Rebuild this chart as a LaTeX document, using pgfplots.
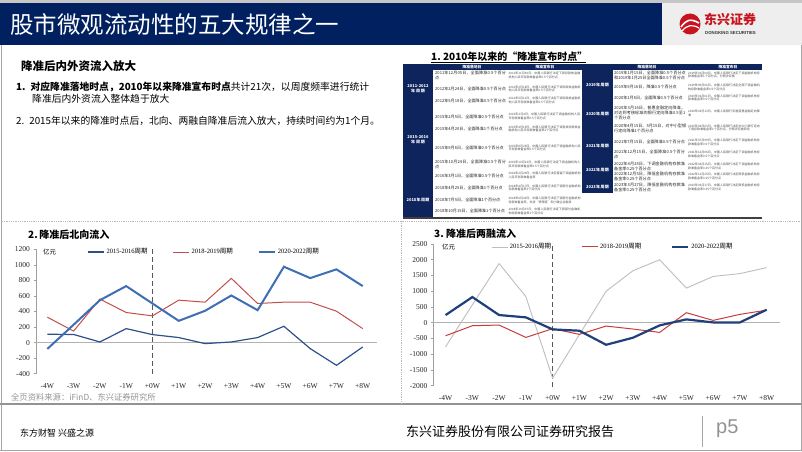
\documentclass[border=0pt]{standalone}
\usepackage{pgfplots}
\pgfplotsset{compat=1.18}
\usepackage{pgfplotstable}
\usepackage{fontspec}
\setmainfont{Liberation Serif}
\setsansfont{Liberation Sans}
\newfontfamily\cjk{Noto Sans CJK SC}
\XeTeXlinebreaklocale "zh"
\XeTeXlinebreakskip = 0pt plus 1pt
\definecolor{navy}{RGB}{0,32,96}
\definecolor{tnavy}{RGB}{14,36,92}
\definecolor{logogray}{RGB}{238,238,238}
\definecolor{logored}{RGB}{200,20,30}
\definecolor{bluethin}{RGB}{46,80,140}
\definecolor{redline}{RGB}{192,80,77}
\definecolor{bluethick}{RGB}{62,110,180}
\definecolor{grayline}{RGB}{190,190,190}
\definecolor{redtwo}{RGB}{200,60,60}
\definecolor{navytwo}{RGB}{31,64,122}

\pgfplotstableread{
x a b c
-4 107 327 -82
-3 105 148 230
-2 8 560 545
-1 180 387 727
0 103 344 503
1 65 546 280
2 -13 520 409
3 8 826 606
4 65 503 417
5 210 520 976
6 -77 520 830
7 -292 404 942
8 -56 180 727
}\northdata

\pgfplotstableread{
x a b c
-4 -763 -413 244
-3 570 -95 815
-2 1880 -74 244
-1 830 -466 170
0 -1760 -190 -212
1 -380 -370 -254
2 1000 -106 -700
3 1650 -200 -477
4 2000 -307 -85
5 1100 318 106
6 1470 74 10
7 1560 265 10
8 1750 400 413
}\margindata

\newcommand{\ca}[2]{\node[anchor=west,inner sep=0pt,text width=72pt,align=left,text=black!85,font=\cjk\fontsize{4.1}{5}\selectfont] at (#1) {#2};}
\newcommand{\cb}[2]{\node[anchor=west,inner sep=0pt,text width=72pt,align=left,text=black!70,font=\cjk\fontsize{3}{3.7}\selectfont] at (#1) {#2};}
\newcommand{\pl}[2]{\node[inner sep=0pt,text width=28pt,align=center,text=white,font=\cjk\bfseries\fontsize{4}{5}\selectfont] at (#1) {#2};}

\begin{document}
\begin{tikzpicture}
\useasboundingbox (0,0) rectangle (802pt,451pt);
\fill[white] (0,0) rectangle (802pt,451pt);
\begin{scope}[x=1pt,y=-1pt,yshift=451pt]
% header
\fill[gray!45] (0,0) rectangle (802,3);
\fill[navy] (0,3) rectangle (662,45);
\fill[logogray] (662,3) rectangle (802,45);
\node[anchor=west,text=white,font=\cjk\fontsize{23.5}{25}\selectfont,inner sep=0pt] at (10,24) {股市微观流动性的五大规律之一};
% logo
\fill[logored] (690,24) circle (10.5);
\draw[white,line width=1.6pt] (681,27) .. controls (686,20) and (690,18) .. (699,23);
\draw[white,line width=1.2pt] (682,31) .. controls (687,25) and (692,24) .. (699,28);
\node[anchor=west,text=logored,font=\cjk\bfseries\fontsize{13}{14}\selectfont,inner sep=0pt] at (704,20) {东兴证券};
\node[anchor=west,text=black!80,font=\sffamily\bfseries\fontsize{4.3}{5}\selectfont,inner sep=0pt] at (705,33) {DONGKING SECURITIES};
% frame
\draw[gray!70,line width=1pt] (1,45) -- (1,451);
\draw[gray!70,line width=1pt] (801,45) -- (801,451);
\draw[gray!70,line width=1pt] (0,450.5) -- (802,450.5);
\draw[gray!85,line width=2pt] (0,404) -- (802,404);
\draw[gray!55,densely dotted,line width=0.8pt] (2,221) -- (800,221);
\draw[gray!55,densely dotted,line width=0.8pt] (401,221) -- (401,403);
% left text block
\node[anchor=west,inner sep=0pt,font=\cjk\bfseries\fontsize{11.5}{13}\selectfont] at (21,66) {降准后内外资流入放大};
\node[anchor=west,inner sep=0pt,font=\cjk\fontsize{9.8}{11}\selectfont] at (16,87) {\textbf{1.}\hspace{5pt}\textbf{对应降准落地时点，2010年以来降准宣布时点}共计21次，以周度频率进行统计};
\node[anchor=west,inner sep=0pt,font=\cjk\fontsize{9.8}{11}\selectfont] at (32,99) {降准后内外资流入整体趋于放大};
\node[anchor=west,inner sep=0pt,font=\cjk\fontsize{9.8}{11}\selectfont] at (16,121) {2.\hspace{5pt}2015年以来的降准时点后，北向、两融自降准后流入放大，持续时间约为1个月。};
% table
\node[anchor=west,inner sep=0pt,font=\cjk\bfseries\fontsize{10}{11}\selectfont] at (431,56.5) {1.\ 2010年以来的“降准宣布时点”};
\draw[black,line width=0.7pt] (431,62.3) -- (586,62.3);
\fill[tnavy] (403,64) rectangle (762,69.5);
\fill[tnavy] (403,69.5) rectangle (433,217.5);
\fill[tnavy] (582,69.5) rectangle (613,193);
\draw[black!75,line width=1.5pt] (403,218) -- (762,218);
\node[inner sep=0pt,text=white,font=\cjk\bfseries\fontsize{3.8}{4}\selectfont] at (472,66.8) {降准落地日};
\node[inner sep=0pt,text=white,font=\cjk\bfseries\fontsize{3.8}{4}\selectfont] at (545,66.8) {降准宣布日};
\node[inner sep=0pt,text=white,font=\cjk\bfseries\fontsize{3.8}{4}\selectfont] at (647,66.8) {降准落地日};
\node[inner sep=0pt,text=white,font=\cjk\bfseries\fontsize{3.8}{4}\selectfont] at (728,66.8) {降准宣布日};
\pl{418,89}{2011-2012年周期}
\pl{418,140}{2015-2016年周期}
\pl{418,200.3}{2018年周期}
\pl{597.5,85}{2019年周期}
\pl{597.5,114}{2020年周期}
\pl{597.5,146}{2021年周期}
\pl{597.5,170}{2022年周期}
\pl{597.5,187}{2023年周期}
% left rows
\ca{435,75.5}{2011年12月05日，全面降准0.5个百分点}
\ca{435,89}{2012年2月24日，全面降准0.5个百分点}
\ca{435,100.7}{2012年5月18日，全面降准0.5个百分点}
\ca{435,116.7}{2015年2月5日，全面降准0.5个百分点}
\ca{435,129}{2015年4月20日，全面降准1个百分点}
\ca{435,147.7}{2015年9月6日，全面降准0.5个百分点}
\ca{435,164.5}{2015年10月24日，全面降准0.5个百分点}
\ca{435,175.7}{2016年3月1日，全面降准0.5个百分点}
\ca{435,187.7}{2018年4月25日，全面降准1个百分点}
\ca{435,200.3}{2018年7月5日，全面降准1个百分点}
\ca{435,211}{2018年10月15日，全面降准1个百分点}
\cb{508.5,75.5}{2011年11月30日，中国人民银行决定下调存款类金融机构人民币存款准备金率0.5个百分点}
\cb{508.5,89}{2012年2月18日，中国人民银行决定下调存款类金融机构人民币存款准备金率0.5个百分点}
\cb{508.5,100.7}{2012年5月12日，中国人民银行决定下调存款类金融机构人民币存款准备金率0.5个百分点}
\cb{508.5,116.7}{2015年2月4日，中国人民银行决定下调金融机构人民币存款准备金率0.5个百分点}
\cb{508.5,129}{2015年4月19日，中国人民银行决定下调各类存款类金融机构人民币存款准备金率1个百分点}
\cb{508.5,147.7}{2015年8月25日，中国人民银行决定下调金融机构人民币存款准备金率0.5个百分点}
\cb{508.5,164.5}{2015年10月23日，中国人民银行决定下调金融机构人民币存款准备金率0.5个百分点}
\cb{508.5,175.7}{2016年2月29日，中国人民银行决定普遍下调金融机构人民币存款准备金率}
\cb{508.5,187.7}{2018年4月17日，中国人民银行决定下调部分金融机构存款准备金率1个百分点}
\cb{508.5,200.3}{2018年6月24日，中国人民银行决定下调部分金融机构存款准备金率，支持“债转股”和小微企业融资}
\cb{508.5,211}{2018年10月07日，中国人民银行决定下调部分金融机构存款准备金率1个百分点}
% right rows
\ca{614,75}{2019年1月15日，全面降准0.5个百分点和2019年1月25日全面降准0.5个百分点}
\ca{614,87}{2019年9月16日，降准0.5个百分点}
\ca{614,98}{2020年1月6日，全面降准0.5个百分点}
\ca{614,113}{2020年3月16日，普惠金融定向降准，对达到考核标准的银行定向降准0.5至1个百分点}
\ca{614,128}{2020年4月15日、5月15日，对中小型银行定向降准1个百分点}
\ca{614,142}{2021年7月15日，全面降准0.5个百分点}
\ca{614,154}{2021年12月15日，全面降准0.5个百分点}
\ca{614,166}{2022年4月25日，下调金融机构存款准备金率0.25个百分点}
\ca{614,176}{2022年12月5日，降低金融机构存款准备金率0.25个百分点}
\ca{614,187}{2023年3月27日，降低金融机构存款准备金率0.25个百分点}
\cb{688,75}{2019年01月04日，中国人民银行决定下调金融机构存款准备金率1个百分点，分两次实施}
\cb{688,87}{2019年09月06日，中国人民银行决定全面下调金融机构存款准备金率0.5个百分点}
\cb{688,98}{2020年01月01日，中国人民银行决定下调金融机构存款准备金率0.5个百分点}
\cb{688,113}{2020年03月13日，中国人民银行实施普惠金融定向降准}
\cb{688,128}{2020年04月03日，中国人民银行决定对中小银行定向下调存款准备金率1个百分点，分两次实施到位}
\cb{688,142}{2021年07月09日，中国人民银行决定下调金融机构存款准备金率0.5个百分点}
\cb{688,154}{2021年12月06日，中国人民银行决定下调金融机构存款准备金率0.5个百分点}
\cb{688,166}{2022年04月15日，中国人民银行决定下调金融机构存款准备金率0.25个百分点}
\cb{688,176}{2022年11月25日，中国人民银行决定降低金融机构存款准备金率0.25个百分点}
\cb{688,187}{2023年03月17日，中国人民银行决定降低金融机构存款准备金率0.25个百分点}
% chart titles
\node[anchor=west,inner sep=0pt,font=\cjk\bfseries\fontsize{10}{11}\selectfont] at (28,235) {2.\,降准后北向流入};
\node[anchor=west,inner sep=0pt,font=\cjk\bfseries\fontsize{10}{11}\selectfont] at (434,234) {3.\ 降准后两融流入};
% source and footer
\node[anchor=west,inner sep=0pt,text=gray!85,font=\cjk\fontsize{8.3}{9}\selectfont] at (11,397) {全页资料来源：iFinD、东兴证券研究所};
\node[anchor=west,inner sep=0pt,font=\cjk\fontsize{9}{10}\selectfont] at (20,433) {东方财智 兴盛之源};
\node[anchor=west,inner sep=0pt,font=\cjk\fontsize{13}{14}\selectfont] at (406,432) {东兴证券股份有限公司证券研究报告};
\draw[gray!70,line width=0.8pt] (702,416) -- (702,447);
\node[anchor=west,inner sep=0pt,text=gray!85,font=\sffamily\fontsize{20}{22}\selectfont] at (716,429) {p5};
\end{scope}

% chart 1
\begin{axis}[
  at={(36pt,77.3pt)}, anchor=south west, scale only axis,
  width=340.7pt, height=124.4pt,
  xmin=-4.43, xmax=8.53, ymin=-400, ymax=1200,
  axis lines*=left,
  x axis line style={draw=none},
  y axis line style={gray!75,line width=0.6pt},
  xtick={-4,...,8},
  xticklabels={-4W,-3W,-2W,-1W,+0W,+1W,+2W,+3W,+4W,+5W,+6W,+7W,+8W},
  ytick={-400,-200,...,1200},
  tick align=outside,
  xtick style={draw=none},
  ytick style={gray!75,line width=0.6pt},
  major tick length=2.5pt,
  ticklabel style={font=\fontsize{7.5}{8}\selectfont, text=black!85},
  xticklabel style={yshift=-4pt},
  /pgf/number format/assume math mode=true,
  /pgf/number format/1000 sep={},
  clip=false,
  legend columns=3,
  legend style={draw=none,fill=none,at={(axis description cs:0.15,0.978)},anchor=west,font=\fontsize{6.5}{7}\selectfont,inner sep=0pt,/tikz/every even column/.append style={column sep=23pt}},
  legend image code/.code={\draw[#1] (0pt,0pt) -- (16pt,0pt);},
]
\draw[gray!60,line width=0.6pt] (axis cs:-4.43,0) -- (axis cs:8.53,0);
\draw[black!65,dash pattern=on 5pt off 3pt,line width=1.4pt] (axis cs:0,-400) -- (axis cs:0,1200);
\node[anchor=west,inner sep=0pt,font=\cjk\fontsize{6.5}{7}\selectfont] at (axis description cs:0.02,0.978) {亿元};
\addplot[bluethin,line width=1.2pt] table[x=x,y=a] {\northdata};
\addlegendentry{2015-2016{\cjk 周期}}
\addplot[redline,line width=1pt] table[x=x,y=b] {\northdata};
\addlegendentry{2018-2019{\cjk 周期}}
\addplot[bluethick,line width=2pt] table[x=x,y=c] {\northdata};
\addlegendentry{2020-2022{\cjk 周期}}
\end{axis}

% chart 2
\begin{axis}[
  at={(433.3pt,65.3pt)}, anchor=south west, scale only axis,
  width=346.7pt, height=141.7pt,
  xmin=-4.46, xmax=8.5, ymin=-2000, ymax=2500,
  axis lines*=left,
  x axis line style={draw=none},
  y axis line style={gray!75,line width=0.6pt},
  xtick={-4,...,8},
  xticklabels={-4W,-3W,-2W,-1W,+0W,+1W,+2W,+3W,+4W,+5W,+6W,+7W,+8W},
  ytick={-2000,-1500,...,2500},
  tick align=outside,
  xtick style={draw=none},
  ytick style={gray!75,line width=0.6pt},
  major tick length=2.5pt,
  ticklabel style={font=\fontsize{7.5}{8}\selectfont, text=black!85},
  xticklabel style={yshift=-4pt},
  /pgf/number format/assume math mode=true,
  /pgf/number format/1000 sep={},
  clip=false,
  legend columns=3,
  legend style={draw=none,fill=none,at={(axis description cs:0.166,0.979)},anchor=west,font=\fontsize{6.5}{7}\selectfont,inner sep=0pt,/tikz/every even column/.append style={column sep=28pt}},
  legend image code/.code={\draw[#1] (0pt,0pt) -- (16pt,0pt);},
]
\draw[gray!60,line width=0.6pt] (axis cs:-4.46,0) -- (axis cs:8.5,0);
\draw[black!65,dash pattern=on 5pt off 3pt,line width=1.4pt] (axis cs:0,-2050) -- (axis cs:0,2500);
\node[anchor=west,inner sep=0pt,font=\cjk\fontsize{6.5}{7}\selectfont] at (axis description cs:0.025,0.979) {亿元};
\addplot[grayline,line width=0.9pt] table[x=x,y=a] {\margindata};
\addlegendentry{2015-2016{\cjk 周期}}
\addplot[redtwo,line width=1pt] table[x=x,y=b] {\margindata};
\addlegendentry{2018-2019{\cjk 周期}}
\addplot[navytwo,line width=2.2pt] table[x=x,y=c] {\margindata};
\addlegendentry{2020-2022{\cjk 周期}}
\end{axis}
\end{tikzpicture}
\end{document}
